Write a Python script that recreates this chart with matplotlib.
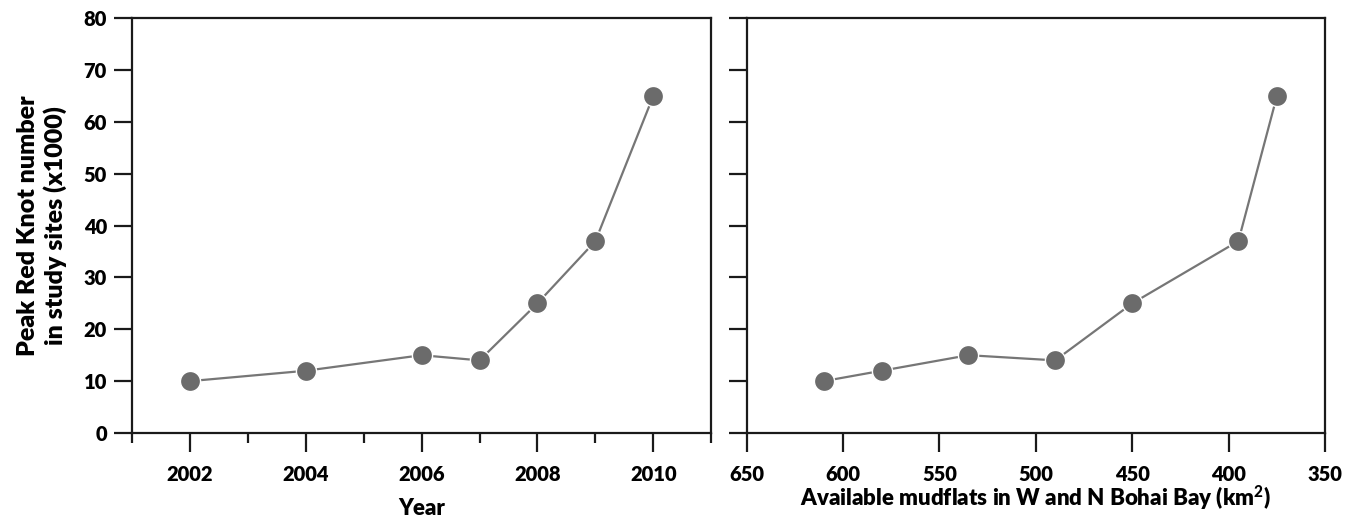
import matplotlib
matplotlib.use("Agg")
import matplotlib.pyplot as plt
from matplotlib.ticker import MultipleLocator

years = [2002, 2004, 2006, 2007, 2008, 2009, 2010]
mudflats = [610, 580, 535, 490, 450, 395, 375]
knots = [10, 12, 15, 14, 25, 37, 65]

W = 'heavy'
plt.rcParams['font.family'] = ['Lato', 'DejaVu Sans']
plt.rcParams['font.weight'] = W
plt.rcParams['mathtext.fontset'] = 'custom'
plt.rcParams['mathtext.bf'] = 'Lato:black'
plt.rcParams['mathtext.rm'] = 'Lato:black'

fig = plt.figure(figsize=(13.6, 5.22), dpi=100)
ax1 = fig.add_axes([0.097, 0.1705, 0.426, 0.795])
ax2 = fig.add_axes([0.549, 0.1705, 0.4254, 0.795])

mc = '#6b6b6b'
lc = '#767676'
for ax, x in ((ax1, years), (ax2, mudflats)):
    ax.plot(x, knots, color=lc, lw=1.6, zorder=2)
    ax.plot(x, knots, 'o', ms=14.5, color=mc, mec='white', mew=1.0, zorder=3)
    ax.set_ylim(0, 80)
    ax.yaxis.set_major_locator(MultipleLocator(10))
    for s in ax.spines.values():
        s.set_linewidth(1.6)
        s.set_color('#1a1a1a')
    ax.tick_params(axis='y', which='major', direction='out', length=13,
                   width=1.6, color='#1a1a1a', labelsize=14.5, pad=5)
    ax.tick_params(axis='x', which='major', direction='out', length=14,
                   width=1.6, color='#1a1a1a', labelsize=14.5, pad=9)
    ax.tick_params(axis='x', which='minor', direction='out', length=7,
                   width=1.6, color='#1a1a1a')

ax1.set_xlim(2001, 2011)
ax1.set_xticks([2002, 2004, 2006, 2008, 2010])
ax1.xaxis.set_minor_locator(MultipleLocator(1))
ax1.set_xlabel('Year', fontsize=16, fontweight=W, labelpad=10)
ax1.set_ylabel('Peak Red Knot number\nin study sites (x1000)', fontsize=18,
               fontweight=W, labelpad=12, linespacing=1.2)

ax2.set_xlim(650, 350)
ax2.xaxis.set_major_locator(MultipleLocator(50))
ax2.tick_params(axis='y', labelleft=False)
ax2.set_xlabel('Available mudflats in W and N Bohai Bay (km$^2$)',
               fontsize=16, fontweight=W, labelpad=0)

for ax in (ax1, ax2):
    for lab in ax.get_xticklabels() + ax.get_yticklabels():
        lab.set_fontweight(W)

fig.savefig('out.png', dpi=100, facecolor='white')
